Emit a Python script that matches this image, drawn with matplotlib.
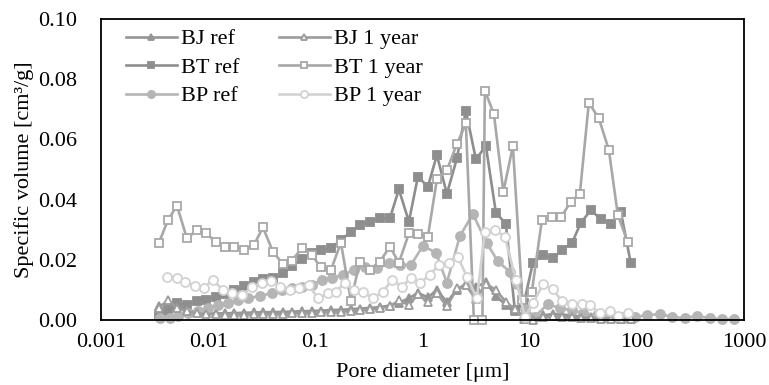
import matplotlib
matplotlib.use("Agg")
import matplotlib.pyplot as plt
from matplotlib.ticker import FixedLocator, FixedFormatter, NullLocator

plt.rcParams['font.family'] = ['Liberation Serif', 'DejaVu Serif']

# shared pore-diameter grid (um) for BJ / BT series
d_grid = [0.003475, 0.004217, 0.005117, 0.006342, 0.007861, 0.009539, 0.01182, 0.01434,
          0.01740, 0.02158, 0.02674, 0.03245, 0.04022, 0.04985, 0.06048, 0.07499,
          0.09296, 0.1128, 0.1398, 0.1733, 0.2148, 0.2606, 0.3230, 0.4005, 0.4964,
          0.6024, 0.7466, 0.9059, 1.123, 1.362, 1.689, 2.094, 2.540, 3.148, 3.903,
          4.838, 5.998, 7.275, 8.829, 10.71, 13.28, 16.46, 19.97, 24.76, 30.03,
          37.23, 46.15, 57.21, 70.92, 87.90]

bj_ref = [0.0045, 0.0060, 0.0045, 0.0035, 0.0025, 0.0022, 0.0022, 0.0022, 0.0023, 0.0024,
          0.0025, 0.0026, 0.0026, 0.0027, 0.0028, 0.0029, 0.0030, 0.0031, 0.0033, 0.0034,
          0.0036, 0.0038, 0.0040, 0.0043, 0.0048, 0.0058, 0.0072, 0.0090, 0.0075, 0.0100,
          0.0060, 0.0100, 0.0120, 0.0110, 0.0125, 0.0080, 0.0050, 0.0030, 0.0015, 0.0010,
          0.0015, 0.0020, 0.0018, 0.0015, 0.0012, 0.0010, 0.0008, 0.0006, 0.0005, 0.0004]

bj_1yr = [0.0040, 0.0065, 0.0040, 0.0030, 0.0022, 0.0020, 0.0019, 0.0018, 0.0018, 0.0018,
          0.0019, 0.0019, 0.0020, 0.0021, 0.0022, 0.0023, 0.0024, 0.0025, 0.0027, 0.0028,
          0.0030, 0.0032, 0.0035, 0.0040, 0.0045, 0.0065, 0.0050, 0.0085, 0.0060, 0.0090,
          0.0045, 0.0105, 0.0115, 0.0070, 0.0120, 0.0100, 0.0060, 0.0035, 0.0005, 0.0000,
          0.0010, 0.0012, 0.0010, 0.0009, 0.0008, 0.0007, 0.0005, 0.0004, 0.0003, 0.0002]

bt_ref = [0.0015, 0.0030, 0.0055, 0.0050, 0.0062, 0.0068, 0.0077, 0.0088, 0.0100, 0.0112,
          0.0125, 0.0135, 0.0138, 0.0155, 0.0178, 0.0203, 0.0222, 0.0232, 0.0238, 0.0266,
          0.0293, 0.0316, 0.0327, 0.0338, 0.0338, 0.0434, 0.0327, 0.0476, 0.0443, 0.0548,
          0.0419, 0.0537, 0.0695, 0.0534, 0.0578, 0.0357, 0.0319, 0.0033, 0.0055, 0.0190,
          0.0216, 0.0205, 0.0233, 0.0255, 0.0323, 0.0365, 0.0335, 0.0319, 0.0360, 0.0188]

d_bt_1yr = [0.003475, 0.004217, 0.005117, 0.006342, 0.007861, 0.009539, 0.01182, 0.01434,
            0.01740, 0.02158, 0.02674, 0.03245, 0.04022, 0.04985, 0.06048, 0.07499,
            0.09296, 0.1128, 0.1398, 0.1733, 0.2148, 0.2606, 0.3230, 0.4005, 0.4964,
            0.6024, 0.7466, 0.9059, 1.123, 1.362, 1.689, 2.094, 2.540, 3.016, 3.622,
            3.821, 4.634, 5.685, 6.970, 8.55, 10.48, 13.00, 16.11, 19.54, 24.23, 29.39,
            35.66, 44.21, 54.80, 66.49, 82.41]
bt_1yr = [0.0257, 0.0332, 0.0380, 0.0271, 0.0299, 0.0288, 0.0260, 0.0244, 0.0244, 0.0233,
          0.0249, 0.0308, 0.0227, 0.0186, 0.0197, 0.0240, 0.0215, 0.0175, 0.0166, 0.0257,
          0.0064, 0.0194, 0.0166, 0.0194, 0.0244, 0.0190, 0.0288, 0.0286, 0.0277, 0.0467,
          0.0498, 0.0585, 0.0653, 0.0000, 0.0000, 0.0762, 0.0685, 0.0426, 0.0578, 0.0066,
          0.0094, 0.0332, 0.0343, 0.0341, 0.0393, 0.0419, 0.0722, 0.0670, 0.0565, 0.0349,
          0.0258]

d_bp_ref = [0.003552, 0.004402, 0.005228, 0.006479, 0.008033, 0.009956, 0.01234, 0.01530,
            0.01897, 0.02351, 0.03042, 0.03936, 0.04879, 0.06048, 0.07499, 0.09296, 0.1152,
            0.1428, 0.1809, 0.2292, 0.2903, 0.3756, 0.4859, 0.6154, 0.7795, 1.009, 1.334,
            1.689, 2.233, 2.952, 3.988, 5.051, 6.536, 7.597, 9.020, 11.18, 14.78, 19.12,
            24.76, 31.35, 42.37, 55.99, 74.03, 95.79, 124.0, 163.9, 212.1, 280.4, 362.9,
            479.8, 620.9, 803.3]
bp_ref = [0.0006, 0.0006, 0.0013, 0.0022, 0.0031, 0.0039, 0.0050, 0.0058, 0.0066, 0.0072,
          0.0080, 0.0089, 0.0100, 0.0105, 0.0111, 0.0116, 0.0133, 0.0139, 0.0150, 0.0166,
          0.0177, 0.0172, 0.0188, 0.0183, 0.0183, 0.0246, 0.0224, 0.0124, 0.0279, 0.0352,
          0.0255, 0.0195, 0.0160, 0.0120, 0.0035, 0.0011, 0.0053, 0.0039, 0.0033, 0.0022,
          0.0017, 0.0013, 0.0011, 0.0009, 0.0017, 0.0019, 0.0011, 0.0006, 0.0014, 0.0006,
          0.0003, 0.0003]

d_bp_1yr = [0.004127, 0.005117, 0.006075, 0.007532, 0.009137, 0.01108, 0.01374, 0.01667,
            0.02067, 0.02562, 0.03176, 0.03853, 0.04674, 0.05795, 0.07031, 0.08716, 0.1057,
            0.1311, 0.1557, 0.1888, 0.2292, 0.2780, 0.3446, 0.4272, 0.5184, 0.6425, 0.7795,
            0.9456, 1.172, 1.422, 1.763, 2.139, 2.595, 3.217, 3.821, 4.735, 5.871, 7.436,
            9.020, 10.71, 13.28, 16.46, 19.97, 24.76, 30.68, 36.44, 45.17, 55.99, 66.49,
            82.41]
bp_1yr = [0.0142, 0.0138, 0.0127, 0.0112, 0.0108, 0.0133, 0.0100, 0.0089, 0.0082, 0.0109,
          0.0124, 0.0130, 0.0109, 0.0100, 0.0108, 0.0116, 0.0072, 0.0089, 0.0094, 0.0124,
          0.0100, 0.0094, 0.0072, 0.0094, 0.0133, 0.0111, 0.0139, 0.0122, 0.0150, 0.0183,
          0.0188, 0.0210, 0.0144, 0.0072, 0.0293, 0.0299, 0.0277, 0.0133, 0.0011, 0.0055,
          0.0118, 0.0102, 0.0063, 0.0052, 0.0052, 0.0050, 0.0022, 0.0031, 0.0013, 0.0023]

x_ticks = [0.001, 0.01, 0.1, 1, 10, 100, 1000]
x_tick_labels = ['0.001', '0.01', '0.1', '1', '10', '100', '1000']
y_ticks = [0.00, 0.02, 0.04, 0.06, 0.08, 0.10]

FS = 16

fig = plt.figure(figsize=(7.69, 3.85), dpi=100)
ax = fig.add_axes([0.1313, 0.1688, 0.8362, 0.7818])

series = [
    ("BJ ref", d_grid, bj_ref, '^', '#959595', True, 5.5),
    ("BT ref", d_grid, bt_ref, 's', '#8e8e8e', True, 6),
    ("BP ref", d_bp_ref, bp_ref, 'o', '#b5b5b5', True, 6.5),
    ("BJ 1 year", d_grid, bj_1yr, '^', '#9c9c9c', False, 5.5),
    ("BT 1 year", d_bt_1yr, bt_1yr, 's', '#a8a8a8', False, 6),
    ("BP 1 year", d_bp_1yr, bp_1yr, 'o', '#d2d2d2', False, 6.5),
]
for label, xs, ys, mk, col, filled, ms in series:
    ax.plot(xs, ys, marker=mk, color=col, lw=1.9, ms=ms,
            markerfacecolor=col if filled else 'white',
            markeredgecolor=col, markeredgewidth=1.3,
            label=label, clip_on=False)

ax.set_xscale('log')
ax.set_xlim(0.001, 1000)
ax.set_ylim(0, 0.10)
ax.xaxis.set_major_locator(FixedLocator(x_ticks))
ax.xaxis.set_major_formatter(FixedFormatter(x_tick_labels))
ax.xaxis.set_minor_locator(NullLocator())
ax.set_yticks(y_ticks)
ax.set_yticklabels([f"{v:.2f}" for v in y_ticks])
ax.tick_params(axis='x', length=0, labelsize=FS, pad=9, colors='black')
ax.tick_params(axis='y', length=0, labelsize=FS, pad=17, colors='black')
for s in ax.spines.values():
    s.set_linewidth(1.3)
    s.set_color('black')

ax.set_xlabel("Pore diameter [\u03bcm]", fontsize=FS, labelpad=8)
ax.set_ylabel("Specific volume [cm\u00b3/g]", fontsize=FS, labelpad=3)

leg = ax.legend(loc='upper left', bbox_to_anchor=(0.018, 1.012), ncol=2, frameon=False,
                fontsize=FS, handlelength=2.3, handletextpad=0.2, columnspacing=1.75,
                labelspacing=0.36, borderaxespad=0.2, markerscale=0.8)

fig.savefig("out.png", dpi=100)
